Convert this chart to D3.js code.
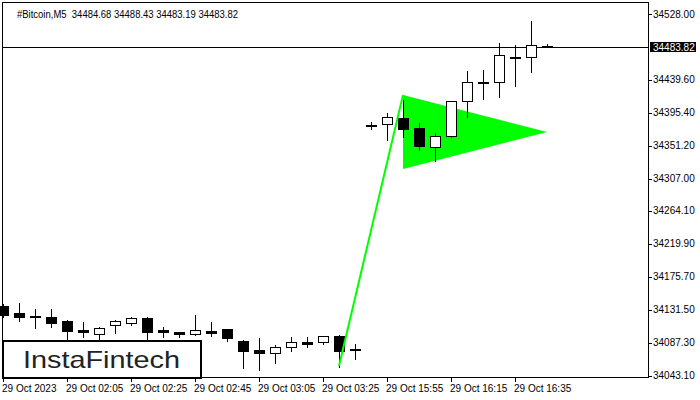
<!DOCTYPE html>
<html>
<head>
<meta charset="utf-8">
<script src="https://cdn.jsdelivr.net/npm/d3@7"></script>
<style>
  body { margin: 0; background: #fff; }
  svg text { font-family: "Liberation Sans", Arial, sans-serif; }
</style>
</head>
<body>
<div id="chart"></div>
<script>
// 5-minute bars, 29 Oct 2023
const times = ['01:45','01:50','01:55','02:00','02:05','02:10','02:15','02:20','02:25','02:30',
  '02:35','02:40','02:45','02:50','02:55','03:00','03:05','03:10','03:15','03:20',
  '03:25','03:30','03:35','15:50','15:55','16:00','16:05','16:10','16:15','16:20',
  '16:25','16:30','16:35','16:40','16:45'];
const open  = [34136.5,34127.2,34123.5,34121.8,34116.4,34104.4,34099.0,34111.1,34113.8,34120.5,
  34104.4,34101.7,34099.0,34103.0,34105.7,34089.6,34077.6,34073.5,34081.6,34088.3,
  34088.3,34096.3,34078.9,34379.2,34380.6,34388.6,34375.2,34349.7,34364.5,34411.4,
  34436.9,34436.9,34470.4,34470.4,34484.68];
const high  = [34139.2,34140.6,34132.5,34132.5,34117.8,34115.1,34108.4,34117.8,34121.8,34121.2,
  34108.4,34101.7,34124.5,34115.1,34105.7,34091.0,34093.6,34084.3,34095.0,34095.0,
  34096.3,34097.7,34085.6,34383.3,34395.3,34412.7,34381.9,34368.5,34412.0,34451.6,
  34452.9,34489.2,34486.5,34518.6,34488.43];
const low   = [34121.8,34116.4,34107.1,34108.4,34091.0,34095.0,34091.0,34100.3,34111.1,34091.0,
  34095.0,34095.0,34097.7,34096.3,34089.6,34053.4,34050.7,34060.1,34076.2,34081.6,
  34085.6,34054.7,34065.5,34373.9,34359.1,34363.1,34345.7,34331.0,34363.5,34390.0,
  34414.0,34416.7,34431.5,34449.6,34483.19];
const close = [34124.5,34121.8,34123.0,34113.8,34103.0,34101.7,34107.1,34116.4,34120.5,34101.7,
  34102.0,34099.0,34104.4,34100.3,34093.6,34076.2,34073.5,34081.6,34088.3,34085.6,
  34096.3,34076.2,34078.2,34379.0,34390.0,34373.9,34351.1,34364.5,34411.4,34436.9,
  34437.5,34473.1,34470.0,34486.5,34483.82];

const priceTicks = [34528.00,34439.60,34395.40,34351.20,34307.00,34264.10,34219.90,34175.70,34131.50,34087.30,34043.10];
const lastPrice = 34483.82;
const timeTickBars = [0,4,8,12,16,20,24,28,32];
const timeTickLabels = ['29 Oct 2023','29 Oct 02:05','29 Oct 02:25','29 Oct 02:45','29 Oct 03:05',
  '29 Oct 03:25','29 Oct 15:55','29 Oct 16:15','29 Oct 16:35'];

// bullish pennant: [bar index, price]
const pennantPole = [[21, 34056.1], [25, 34419.4]];
const pennantFlag = [[25, 34419.4], [25, 34320.2], [34, 34369.9]];

const W = 700, H = 400;
const frameL = 2.5, frameR = 648.5, frameT = 2.5, frameB = 377.5;

const svg = d3.select('#chart').append('svg')
  .attr('width', W).attr('height', H);

const x = d3.scaleLinear().domain([0, times.length - 1]).range([3, 547]);
const y = d3.scaleLinear().domain([34043.10, 34528.00]).range([375.7, 14]);

// frame
svg.append('path')
  .attr('d', `M${frameL},${frameB}V${frameT}H${frameR}V${frameB}H${frameL}`)
  .attr('fill', 'none').attr('stroke', '#000').attr('shape-rendering', 'crispEdges');

svg.append('text')
  .attr('x', 17).attr('y', 17.5)
  .attr('font-size', 10).attr('fill', '#000')
  .attr('xml:space', 'preserve')
  .attr('textLength', 221).attr('lengthAdjust', 'spacingAndGlyphs')
  .text('#Bitcoin,M5  34484.68 34488.43 34483.19 34483.82');

// pennant flag under the candles
svg.append('path')
  .attr('d', d3.line().x(d => x(d[0])).y(d => y(d[1]))(pennantFlag) + 'Z')
  .attr('fill', '#00ff00');

// current price line
const ly = Math.round(y(lastPrice));
svg.append('line')
  .attr('x1', frameL).attr('x2', frameR)
  .attr('y1', ly + 0.5).attr('y2', ly + 0.5)
  .attr('stroke', '#000').attr('shape-rendering', 'crispEdges');

// candles
const bars = d3.range(times.length);
const candle = svg.append('g').attr('shape-rendering', 'crispEdges')
  .selectAll('g').data(bars).enter().append('g');

candle.append('line')
  .attr('x1', i => Math.round(x(i)) + 0.5).attr('x2', i => Math.round(x(i)) + 0.5)
  .attr('y1', i => Math.round(y(high[i]))).attr('y2', i => Math.round(y(low[i])) + 1)
  .attr('stroke', '#000');

candle.append('rect')
  .attr('x', i => Math.round(x(i)) - 5 + 0.5)
  .attr('width', 10)
  .attr('y', i => Math.round(y(Math.max(open[i], close[i]))) + 0.5)
  .attr('height', i => Math.max(1, Math.round(y(Math.min(open[i], close[i]))) - Math.round(y(Math.max(open[i], close[i])))))
  .attr('fill', i => close[i] >= open[i] ? '#fff' : '#000')
  .attr('stroke', '#000');

// pole on top
svg.append('path')
  .attr('d', d3.line().x(d => x(d[0])).y(d => y(d[1]))(pennantPole))
  .attr('fill', 'none').attr('stroke', '#00ff00').attr('stroke-width', 2);

// price axis
const pa = svg.append('g');
pa.selectAll('line').data(priceTicks).enter().append('line')
  .attr('x1', frameR).attr('x2', frameR + 3)
  .attr('y1', d => Math.round(y(d)) + 0.5).attr('y2', d => Math.round(y(d)) + 0.5)
  .attr('stroke', '#000').attr('shape-rendering', 'crispEdges');
pa.selectAll('text').data(priceTicks).enter().append('text')
  .attr('x', 653).attr('y', d => y(d) + 3.5)
  .attr('font-size', 10).attr('fill', '#000')
  .text(d => d3.format('.2f')(d));

svg.append('rect')
  .attr('x', 650).attr('y', ly - 5).attr('width', 46).attr('height', 10)
  .attr('fill', '#000');
svg.append('text')
  .attr('x', 653).attr('y', ly + 4)
  .attr('font-size', 10).attr('fill', '#fff')
  .text(lastPrice.toFixed(2));

// time axis
const ta = svg.append('g');
ta.selectAll('line').data(timeTickBars).enter().append('line')
  .attr('x1', i => Math.round(x(i)) + 0.5).attr('x2', i => Math.round(x(i)) + 0.5)
  .attr('y1', frameB).attr('y2', frameB + 4)
  .attr('stroke', '#000').attr('shape-rendering', 'crispEdges');
ta.selectAll('text').data(timeTickBars).enter().append('text')
  .attr('x', i => Math.round(x(i)) - 1).attr('y', 392)
  .attr('font-size', 10).attr('fill', '#000')
  .text((d, k) => timeTickLabels[k]);

// logo
svg.append('rect')
  .attr('x', 3).attr('y', 341).attr('width', 198).attr('height', 37)
  .attr('fill', '#fff').attr('stroke', '#000').attr('stroke-width', 2);
svg.append('text')
  .attr('x', 23).attr('y', 368)
  .attr('font-family', 'Lato, Roboto, sans-serif')
  .attr('font-size', 24).attr('fill', '#222')
  .attr('textLength', 157).attr('lengthAdjust', 'spacingAndGlyphs')
  .text('InstaFintech');
</script>
</body>
</html>
